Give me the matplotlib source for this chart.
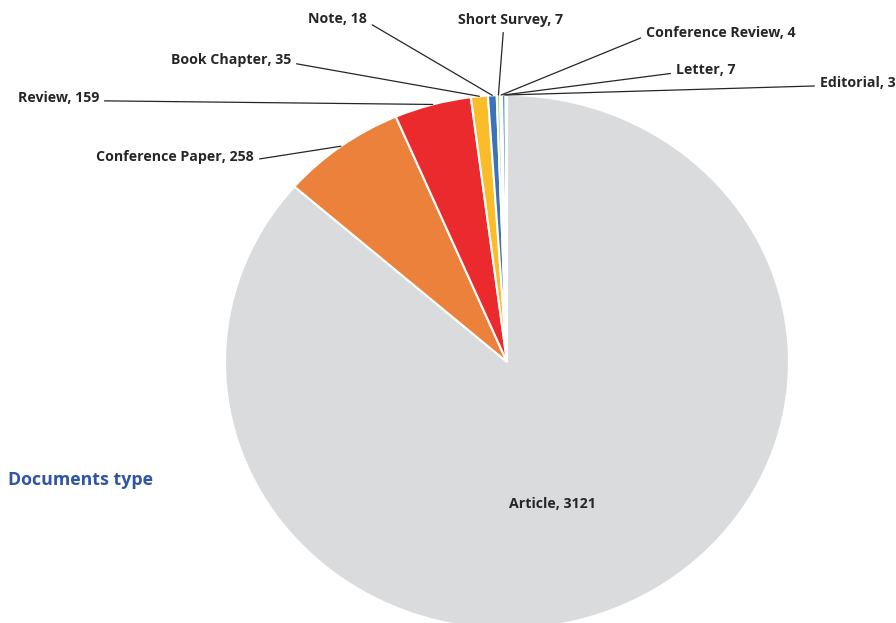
import numpy as np
import matplotlib.pyplot as plt

# document types, clockwise from 12 o'clock
doc_types = ["Article", "Conference Paper", "Review", "Book Chapter", "Note",
             "Short Survey", "Conference Review", "Letter", "Editorial"]
counts = [3121, 258, 159, 35, 18, 7, 4, 7, 3]
colors = ["#DADBDD", "#EB813A", "#EB2A2E", "#FBBC2A", "#3D72B9",
          "#A8D08D", "#E8EEF6", "#2F75B5", "#C9CBCE"]

W, H = 896, 623
fig = plt.figure(figsize=(W / 100, H / 100), dpi=100)

# pie sits in its own axes, slightly wider than tall
cx, cy, rx, ry = 507, 362, 282, 267
ax = fig.add_axes([(cx - rx) / W, (H - cy - ry) / H, 2 * rx / W, 2 * ry / H])
wedges, _ = ax.pie(counts, colors=colors, startangle=90, counterclock=False,
                   radius=1, wedgeprops=dict(edgecolor="white", linewidth=1.5))
ax.set_xlim(-1, 1)
ax.set_ylim(-1, 1)
ax.set_aspect("auto")
ax.axis("off")
for w in wedges:
    w.set_clip_on(False)

font = dict(family=["Open Sans", "DejaVu Sans"], fontweight="bold",
            fontsize=10.2, color="#262626")

# label anchor (pixel x, pixel y from top) and alignment
label_pos = {
    "Conference Paper": (254, 157, "right"),
    "Review": (99, 98, "right"),
    "Book Chapter": (291, 60, "right"),
    "Note": (367, 19, "right"),
    "Short Survey": (511, 20, "center"),
    "Conference Review": (646, 33, "left"),
    "Letter": (676, 70, "left"),
    "Editorial": (820, 83, "left"),
}

for w, name, n in zip(wedges, doc_types, counts):
    text = f"{name}, {n}"
    if name == "Article":
        ax.text(0.16, -0.53, text, ha="center", va="center", **font)
        continue
    mid = np.deg2rad((w.theta1 + w.theta2) / 2)
    edge = (np.cos(mid), np.sin(mid))
    px, py, ha = label_pos[name]
    if ha == "right":
        relpos = (1.0, 0.3)
    elif ha == "left":
        relpos = (0.0, 0.3)
    else:
        relpos = (0.43, 0.0)
    ax.annotate(text, xy=edge, xycoords="data",
                xytext=(px, H - py), textcoords="figure pixels",
                ha=ha, va="center", annotation_clip=False,
                arrowprops=dict(arrowstyle="-", color="#262626", lw=0.9,
                                shrinkA=2, shrinkB=0, relpos=relpos),
                **font)

fig.text(8 / W, 1 - 480 / H, "Documents type", ha="left", va="center",
         family=["Open Sans", "DejaVu Sans"], fontweight="bold",
         fontsize=12.8, color="#2F55A4")

fig.savefig("out.png", dpi=100)
